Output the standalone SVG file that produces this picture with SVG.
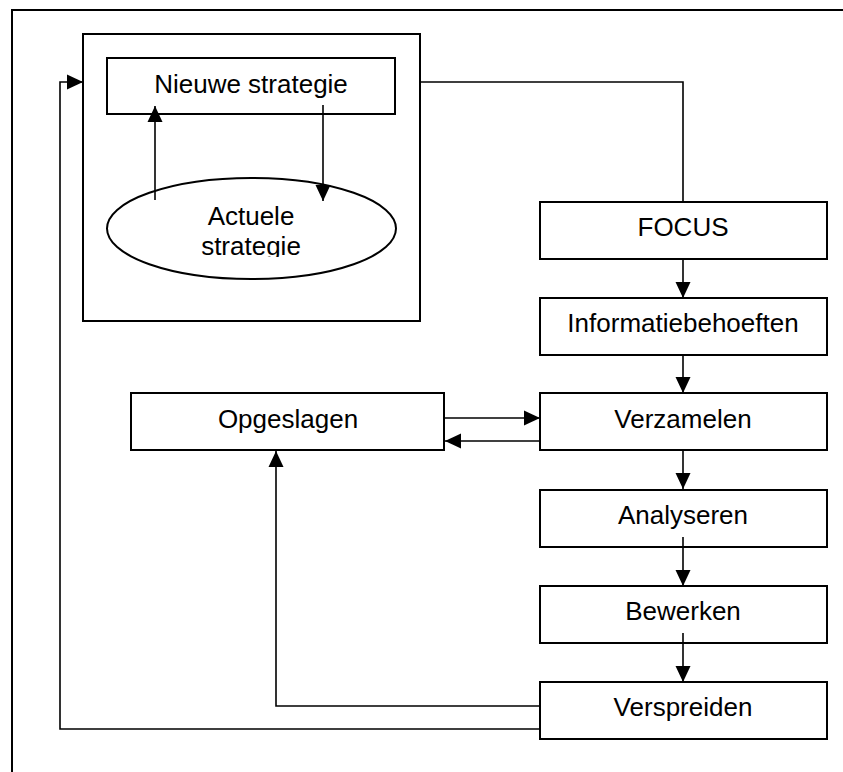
<svg xmlns="http://www.w3.org/2000/svg" width="843" height="772" viewBox="0 0 843 772">
  <style>
    .box { fill: #ffffff; stroke: #000000; stroke-width: 2; }
    .lbl { font-family: "Liberation Sans", Arial, sans-serif; font-size: 26px; fill: #000000; text-anchor: middle; }
    .wire { fill: none; stroke: #000000; stroke-width: 1.6; }
    .frame { fill: none; stroke: #000000; stroke-width: 2; }
  </style>
  <defs>
    <marker id="arrow" markerUnits="userSpaceOnUse" markerWidth="16" markerHeight="16" viewBox="0 0 16 16" refX="16" refY="8" orient="auto">
      <path d="M0,0.5 L16,8 L0,15.5 Z" fill="#000000"/>
    </marker>
    <clipPath id="ellipseText">
      <rect x="100" y="170" width="300" height="87"/>
    </clipPath>
  </defs>

  <rect width="843" height="772" fill="#ffffff"/>

  <!-- page frame -->
  <path class="frame" d="M12,772 L12,10 L843,10"/>

  <!-- strategy container -->
  <g id="strategy-container">
    <rect class="box" x="83" y="34" width="337" height="287"/>
  </g>

  <g id="nieuwe-strategie">
    <rect class="box" x="107" y="58" width="288" height="56"/>
    <text class="lbl" x="251" y="93">Nieuwe strategie</text>
  </g>

  <g id="actuele-strategie">
    <ellipse class="box" cx="251.5" cy="228.5" rx="144.5" ry="50.5"/>
    <g clip-path="url(#ellipseText)">
      <text class="lbl" x="251" y="225">Actuele</text>
      <text class="lbl" x="251" y="255">strategie</text>
    </g>
  </g>

  <g id="focus">
    <rect class="box" x="540" y="202" width="287" height="57"/>
    <text class="lbl" x="683" y="236">FOCUS</text>
  </g>

  <g id="informatiebehoeften">
    <rect class="box" x="540" y="298" width="287" height="57"/>
    <text class="lbl" x="683" y="332">Informatiebehoeften</text>
  </g>

  <g id="opgeslagen">
    <rect class="box" x="131" y="393" width="313" height="57"/>
    <text class="lbl" x="288" y="428">Opgeslagen</text>
  </g>

  <g id="verzamelen">
    <rect class="box" x="540" y="393" width="287" height="57"/>
    <text class="lbl" x="683" y="428">Verzamelen</text>
  </g>

  <g id="analyseren">
    <rect class="box" x="540" y="490" width="287" height="57"/>
    <text class="lbl" x="683" y="524">Analyseren</text>
  </g>

  <g id="bewerken">
    <rect class="box" x="540" y="586" width="287" height="57"/>
    <text class="lbl" x="683" y="620">Bewerken</text>
  </g>

  <g id="verspreiden">
    <rect class="box" x="540" y="682" width="287" height="57"/>
    <text class="lbl" x="683" y="716">Verspreiden</text>
  </g>

  <!-- connectors -->
  <g id="connectors">
    <!-- inner strategy loop -->
    <path class="wire" d="M155,200 L155,106" marker-end="url(#arrow)"/>
    <path class="wire" d="M323,105 L323,201" marker-end="url(#arrow)"/>
    <!-- container to FOCUS -->
    <path class="wire" d="M420,82 L683,82 L683,202"/>
    <!-- main column -->
    <path class="wire" d="M683,259 L683,298" marker-end="url(#arrow)"/>
    <path class="wire" d="M683,355 L683,393" marker-end="url(#arrow)"/>
    <path class="wire" d="M683,450 L683,489" marker-end="url(#arrow)"/>
    <path class="wire" d="M683,537 L683,586" marker-end="url(#arrow)"/>
    <path class="wire" d="M683,633 L683,682" marker-end="url(#arrow)"/>
    <!-- storage exchange -->
    <path class="wire" d="M444,418 L540,418" marker-end="url(#arrow)"/>
    <path class="wire" d="M540,441 L445,441" marker-end="url(#arrow)"/>
    <!-- feedback from Verspreiden -->
    <path class="wire" d="M540,706 L276,706 L276,451" marker-end="url(#arrow)"/>
    <path class="wire" d="M540,729 L60,729 L60,82 L83,82" marker-end="url(#arrow)"/>
  </g>
</svg>
